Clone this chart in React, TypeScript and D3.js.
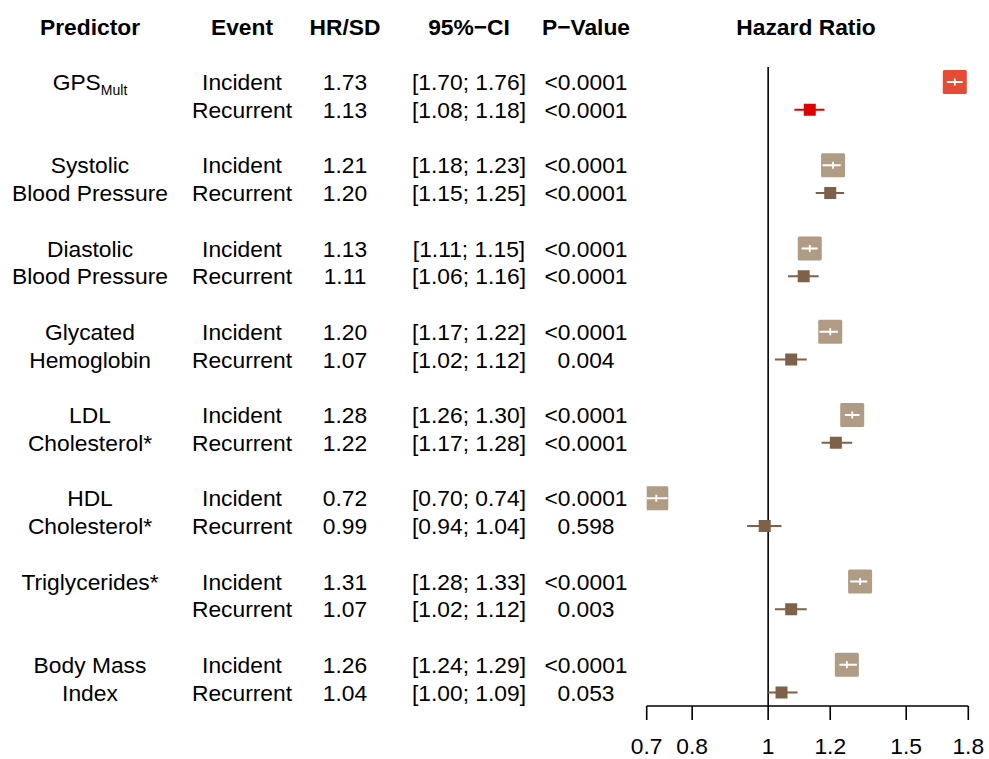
import React from 'react';
import * as d3 from 'd3';

// predictor labels (one or two lines); the first one gets a subscript
const predictorLines: string[][] = [
  ['GPS'],
  ['Systolic', 'Blood Pressure'],
  ['Diastolic', 'Blood Pressure'],
  ['Glycated', 'Hemoglobin'],
  ['LDL', 'Cholesterol*'],
  ['HDL', 'Cholesterol*'],
  ['Triglycerides*'],
  ['Body Mass', 'Index'],
];
const gpsSubscript = 'Mult';
const events = ['Incident', 'Recurrent'];

const incidentHR = [1.73, 1.21, 1.13, 1.2, 1.28, 0.72, 1.31, 1.26];
const incidentLo = [1.7, 1.18, 1.11, 1.17, 1.26, 0.7, 1.28, 1.24];
const incidentHi = [1.76, 1.23, 1.15, 1.22, 1.3, 0.74, 1.33, 1.29];
const incidentP = ['<0.0001', '<0.0001', '<0.0001', '<0.0001', '<0.0001', '<0.0001', '<0.0001', '<0.0001'];

const recurrentHR = [1.13, 1.2, 1.11, 1.07, 1.22, 0.99, 1.07, 1.04];
const recurrentLo = [1.08, 1.15, 1.06, 1.02, 1.17, 0.94, 1.02, 1.0];
const recurrentHi = [1.18, 1.25, 1.16, 1.12, 1.28, 1.04, 1.12, 1.09];
const recurrentP = ['<0.0001', '<0.0001', '<0.0001', '0.004', '<0.0001', '0.598', '0.003', '0.053'];

const axisTicks = [0.7, 0.8, 1, 1.2, 1.5, 1.8];
const headers = ['Predictor', 'Event', 'HR/SD', '95%\u2212CI', 'P\u2212Value', 'Hazard Ratio'];

const W = 989;
const H = 759;
const FONT = '"Liberation Sans", Arial, Helvetica, sans-serif';
const FS = 22.8;

const colX = [90, 242, 345, 469, 586, 806];

const App: React.FC = () => {
  const x = d3.scaleLog().domain([0.7, 1.8]).range([646.7, 968.3]);
  const y = d3.scaleLinear().domain([0, 22]).range([82, 692.5]);
  const axisY = 706;

  const fmt = d3.format('.2f');
  const ci = (lo: number, hi: number) => `[${fmt(lo)}; ${fmt(hi)}]`;

  const rows = predictorLines.flatMap((_, g) => [
    { g, ev: 0, row: g * 3, hr: incidentHR[g], lo: incidentLo[g], hi: incidentHi[g], p: incidentP[g] },
    { g, ev: 1, row: g * 3 + 1, hr: recurrentHR[g], lo: recurrentLo[g], hi: recurrentHi[g], p: recurrentP[g] },
  ]);

  const boxColor = (g: number, ev: number) =>
    g === 0 ? (ev === 0 ? '#E64B35' : '#DC0000') : ev === 0 ? '#B09C85' : '#7E6148';

  const [x0, x1] = x.range();

  return (
    <svg
      width={W}
      height={H}
      style={{ position: 'absolute', left: 0, top: 0, background: '#fff' }}
      fontFamily={FONT}
      fontSize={FS}
    >
      <rect width={W} height={H} fill="#fff" />
      <defs>
        <clipPath id="plotClip">
          <rect x={x0} y={0} width={x1 - x0} height={H} />
        </clipPath>
      </defs>

      {/* column headers */}
      {headers.map((h, i) => (
        <text key={h} x={colX[i]} y={35} textAnchor="middle" fontWeight="bold">
          {h}
        </text>
      ))}

      {/* predictor labels */}
      {predictorLines.map((lines, g) =>
        lines.map((line, k) => (
          <text key={`${g}-${k}`} x={colX[0]} y={y(g * 3 + k) + 8} textAnchor="middle">
            {line}
            {g === 0 && k === 0 ? (
              <tspan fontSize={14} dy={5}>
                {gpsSubscript}
              </tspan>
            ) : null}
          </text>
        ))
      )}

      {/* table columns */}
      {rows.map((r) => (
        <g key={`t-${r.row}`}>
          <text x={colX[1]} y={y(r.row) + 8} textAnchor="middle">
            {events[r.ev]}
          </text>
          <text x={colX[2]} y={y(r.row) + 8} textAnchor="middle">
            {fmt(r.hr)}
          </text>
          <text x={colX[3]} y={y(r.row) + 8} textAnchor="middle">
            {ci(r.lo, r.hi)}
          </text>
          <text x={colX[4]} y={y(r.row) + 8} textAnchor="middle">
            {r.p}
          </text>
        </g>
      ))}

      {/* reference line at HR = 1 */}
      <line x1={x(1)} x2={x(1)} y1={67} y2={axisY} stroke="#000" strokeWidth={1.6} />

      {/* estimates */}
      <g clipPath="url(#plotClip)">
        {rows.map((r) => {
          const cy = y(r.row);
          const cx = x(r.hr);
          const col = boxColor(r.g, r.ev);
          if (r.ev === 0) {
            const s = 24;
            return (
              <g key={`m-${r.row}`}>
                <rect x={cx - s / 2} y={cy - s / 2} width={s} height={s} rx={1.5} fill={col} />
                <line x1={x(r.lo) - 2} x2={x(r.hi) + 2} y1={cy} y2={cy} stroke="#fff" strokeWidth={2.2} />
                <line x1={cx} x2={cx} y1={cy - 3.5} y2={cy + 3.5} stroke="#fff" strokeWidth={1.8} />
              </g>
            );
          }
          const s = 12;
          return (
            <g key={`m-${r.row}`}>
              <line x1={x(r.lo)} x2={x(r.hi)} y1={cy} y2={cy} stroke={col} strokeWidth={2.2} />
              <rect x={cx - s / 2} y={cy - s / 2} width={s} height={s} fill={col} />
            </g>
          );
        })}
      </g>

      {/* x axis */}
      <line x1={x0} x2={x1} y1={axisY} y2={axisY} stroke="#000" strokeWidth={1.6} />
      {axisTicks.map((t) => (
        <g key={t}>
          <line x1={x(t)} x2={x(t)} y1={axisY} y2={axisY + 14} stroke="#000" strokeWidth={1.6} />
          <text x={x(t)} y={754} textAnchor="middle">
            {String(t)}
          </text>
        </g>
      ))}
    </svg>
  );
};

export default App;
